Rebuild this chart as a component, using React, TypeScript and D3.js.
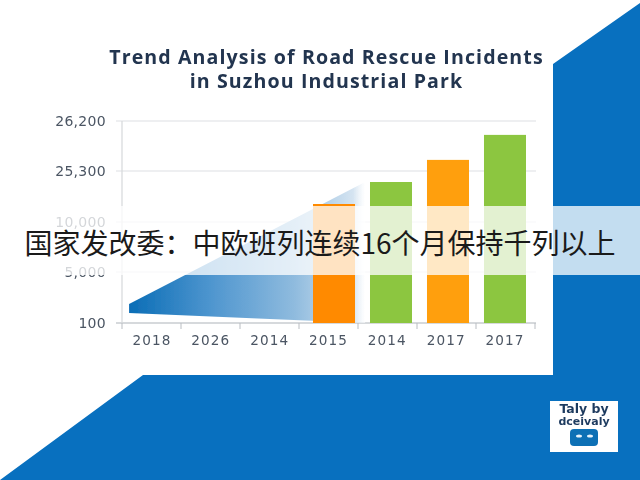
import React from "react";
import * as d3 from "d3";

const categories = ["2018", "2026", "2014", "2015", "2014", "2017", "2017"];
const tickValues = [100, 5000, 10000, 25300, 26200];
const tickLabels = ["100", "5,000", "10,000", "25,300", "26,200"];
const barSlots = [3, 4, 5, 6];
const barValues = [15400, 22000, 25500, 25950];
const barColors = ["#ff8a00", "#8cc63f", "#ff9f0a", "#8cc63f"];
const wedgePositions = [0.12, 4.12];
const wedgeUpper = [1920, 22000];
const wedgeLower = [1060, 100];
const titleLines = ["Trend Analysis of Road Rescue Incidents", "in Suzhou Industrial Park"];
const headline = "国家发改委\uFF1A中欧班列连续16个月保持千列以上";

const W = 640;
const H = 480;

const y = d3.scaleLinear<number>().domain(tickValues).range([323, 272, 222, 171, 121]);
const x = d3.scaleBand<number>().domain(d3.range(categories.length)).range([142, 526]).paddingInner(0.263).paddingOuter(0);
const xPos = d3.scaleLinear().domain([0, categories.length]).range([122, 535]);
const labelX = d3.scaleLinear().domain([0, categories.length - 1]).range([152, 505]);

const wedgeArea = d3
  .area<number>()
  .x((p) => xPos(p))
  .y0((_, i) => y(wedgeLower[i]))
  .y1((_, i) => y(wedgeUpper[i]));

export default function App() {
  return (
    <svg
      width={W}
      height={H}
      viewBox={`0 0 ${W} ${H}`}
      style={{ position: "fixed", left: 0, top: 0, background: "#ffffff", fontFamily: "'DejaVu Sans', sans-serif" }}
    >
      <defs>
        <linearGradient id="wedge" gradientUnits="userSpaceOnUse" x1={xPos(wedgePositions[0])} x2={xPos(wedgePositions[1])} y1={0} y2={0}>
          <stop offset="0" stopColor="#0a6db6" />
          <stop offset="0.35" stopColor="#4f96cf" />
          <stop offset="0.7" stopColor="#8fbbde" />
          <stop offset="0.95" stopColor="#d5e4f1" />
          <stop offset="1" stopColor="#ffffff" stopOpacity={0.6} />
        </linearGradient>
        <filter id="soft" x="-5%" y="-5%" width="110%" height="110%">
          <feGaussianBlur stdDeviation="0.45" />
        </filter>
      </defs>

      <path d="M553,64 L640,3 L640,480 L0,480 L143,375 L553,375 Z" fill="#0870bf" />

      <g filter="url(#soft)">
        {titleLines.map((t, i) => (
          <text key={i} x={326.5} y={64 + i * 24} textAnchor="middle" fontSize={19.6} fontWeight={700} letterSpacing={1.1} fill="#22344f" style={{ fontFamily: "'Open Sans', sans-serif" }}>
            {t}
          </text>
        ))}

        {tickValues.map((v, i) => (
          <g key={v}>
            <line x1={116} x2={536} y1={y(v)} y2={y(v)} stroke={i === 0 ? "#c9ccd0" : "#e9eaec"} strokeWidth={1.3} />
            <text x={106} y={y(v) + 5} textAnchor="end" fontSize={14} letterSpacing={0.3} fill="#4b5563">
              {tickLabels[i]}
            </text>
          </g>
        ))}
        <line x1={122} x2={122} y1={121} y2={323} stroke="#d6d8db" strokeWidth={1.2} />

        {d3.range(categories.length + 1).map((i) => (
          <line key={i} x1={xPos(i)} x2={xPos(i)} y1={323} y2={329} stroke="#b9bdc2" strokeWidth={1} />
        ))}
        {categories.map((c, i) => (
          <text key={i} x={labelX(i)} y={345} textAnchor="middle" fontSize={13.6} fill="#4b5563" letterSpacing={1.1}>
            {c}
          </text>
        ))}

        <path d={wedgeArea(wedgePositions) ?? ""} fill="url(#wedge)" />

        {barSlots.map((slot, i) => (
          <rect key={i} x={x(slot)} y={y(barValues[i])} width={x.bandwidth()} height={y(100) - y(barValues[i])} fill={barColors[i]} />
        ))}
      </g>

      <rect x={0} y={206} width={W} height={69} fill="#ffffff" fillOpacity={0.76} />
      <text x={320} y={254} textAnchor="middle" fontSize={28} fill="#1a1a1a" style={{ fontFamily: "'Noto Sans CJK SC', sans-serif" }}>
        {headline}
      </text>

      <rect x={550} y={401} width={68} height={51} fill="#ffffff" />
      <g filter="url(#soft)">
        <text x={584} y={413} textAnchor="middle" fontSize={12.5} fontWeight={700} fill="#1f3a5f">Taly by</text>
        <text x={584} y={425} textAnchor="middle" fontSize={11} fontWeight={700} fill="#1f3a5f">dceivaly</text>
        <rect x={570} y={429} width={28} height={17} rx={4} fill="#0b6fb5" />
        <ellipse cx={579} cy={436} rx={3} ry={1.6} fill="#e8f3fb" />
        <ellipse cx={590} cy={436} rx={3} ry={1.6} fill="#e8f3fb" />
      </g>
    </svg>
  );
}
